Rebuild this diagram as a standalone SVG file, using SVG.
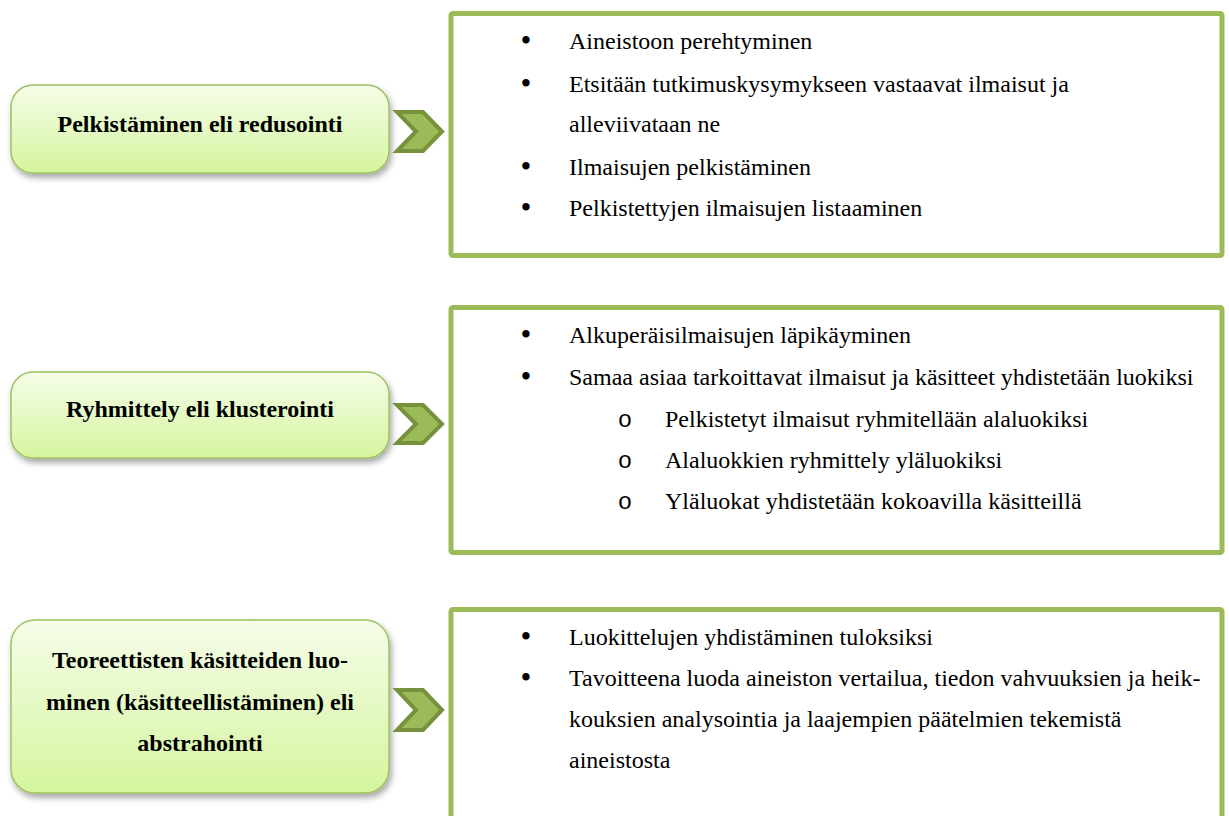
<svg xmlns="http://www.w3.org/2000/svg" width="1229" height="816" viewBox="0 0 1229 816">
<defs>
<linearGradient id="lg" x1="0" y1="0" x2="0" y2="1">
<stop offset="0" stop-color="#f5fde9"/>
<stop offset="1" stop-color="#d5f59e"/>
</linearGradient>
<filter id="sh" x="-10%" y="-20%" width="125%" height="150%">
<feDropShadow dx="2" dy="4" stdDeviation="3" flood-color="#000" flood-opacity="0.35"/>
</filter>
</defs>
<style>
text{font-family:'Liberation Serif','Times New Roman','DejaVu Serif',serif;font-size:24px;fill:#000}
.lb{fill:url(#lg);stroke:#9fc062;stroke-width:1.5;filter:url(#sh)}
.lt{font-weight:bold;text-anchor:middle}
.rb{fill:#fff;stroke:#9bbb59;stroke-width:5}
.bu{text-anchor:middle;font-size:31px}
.so{font-family:'Liberation Mono','Courier New',monospace;text-anchor:middle}
.ch{fill:#9bbb59;stroke:#76923c;stroke-width:4;stroke-linejoin:miter}
</style>
<rect width="1229" height="816" fill="#fff"/>

<g id="step1">
<rect class="lb" x="11" y="85" width="378" height="88" rx="22"/>
<text class="lt" x="200" y="132">Pelkistäminen eli redusointi</text>
</g>
<g id="step2">
<rect class="lb" x="11" y="372" width="378" height="86" rx="22"/>
<text class="lt" x="200" y="417">Ryhmittely eli klusterointi</text>
</g>
<g id="step3">
<rect class="lb" x="11" y="620" width="378" height="173" rx="24"/>
<text class="lt" x="200" y="668">Teoreettisten käsitteiden luo-</text>
<text class="lt" x="200" y="710">minen (käsitteellistäminen) eli</text>
<text class="lt" x="200" y="751">abstrahointi</text>
</g>

<g id="panel1">
<rect class="rb" x="451" y="13.5" width="771" height="242" rx="2"/>
<text class="bu" x="526" y="51">•</text><text x="569" y="49">Aineistoon perehtyminen</text>
<text class="bu" x="526" y="94">•</text><text x="569" y="92">Etsitään tutkimuskysymykseen vastaavat ilmaisut ja</text>
<text x="569" y="132">alleviivataan ne</text>
<text class="bu" x="526" y="177">•</text><text x="569" y="175">Ilmaisujen pelkistäminen</text>
<text class="bu" x="526" y="218">•</text><text x="569" y="216">Pelkistettyjen ilmaisujen listaaminen</text>
</g>

<g id="panel2">
<rect class="rb" x="451" y="307.5" width="771" height="245" rx="2"/>
<text class="bu" x="526" y="345">•</text><text x="569" y="343">Alkuperäisilmaisujen läpikäyminen</text>
<text class="bu" x="526" y="387">•</text><text x="569" y="385">Samaa asiaa tarkoittavat ilmaisut ja käsitteet yhdistetään luokiksi</text>
<text class="so" x="625" y="427">o</text><text x="665" y="427">Pelkistetyt ilmaisut ryhmitellään alaluokiksi</text>
<text class="so" x="625" y="468">o</text><text x="665" y="468">Alaluokkien ryhmittely yläluokiksi</text>
<text class="so" x="625" y="509">o</text><text x="665" y="509">Yläluokat yhdistetään kokoavilla käsitteillä</text>
</g>

<g id="panel3">
<rect class="rb" x="451" y="609.5" width="771" height="260" rx="2"/>
<text class="bu" x="526" y="647">•</text><text x="569" y="645">Luokittelujen yhdistäminen tuloksiksi</text>
<text class="bu" x="526" y="688">•</text><text x="569" y="686">Tavoitteena luoda aineiston vertailua, tiedon vahvuuksien ja heik-</text>
<text x="569" y="727">kouksien analysointia ja laajempien päätelmien tekemistä</text>
<text x="569" y="768">aineistosta</text>
</g>

<g id="connectors">
<polygon class="ch" points="397,112 423,112 442,131.5 423,151 397,151 416,131.5"/>
<polygon class="ch" points="397,405 423,405 442,424 423,443 397,443 416,424"/>
<polygon class="ch" points="397,690 423,690 442,710 423,730 397,730 416,710"/>
</g>
</svg>
